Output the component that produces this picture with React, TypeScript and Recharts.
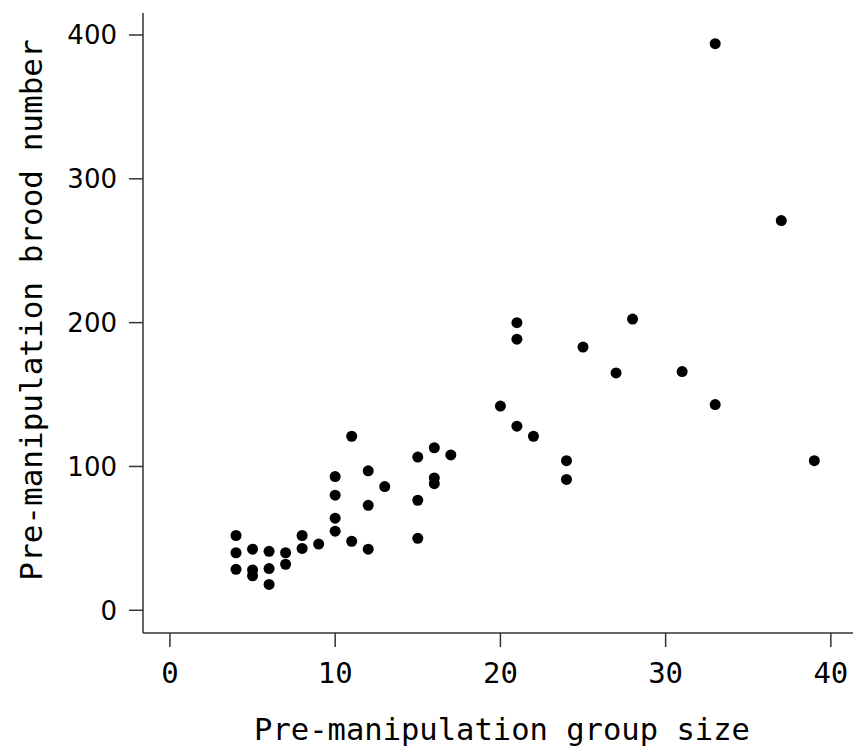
import React from "react";
import {ScatterChart, Scatter, XAxis, YAxis, Label} from "recharts";

// group size / brood number pairs
const groupSize = [
    4, 4, 4, 5, 5, 5, 6, 6, 6, 7, 7, 8, 8, 9,
    10, 10, 10, 10, 11, 11, 12, 12, 12, 13,
    15, 15, 15, 16, 16, 16, 17, 20, 21, 21, 21, 22,
    24, 24, 25, 27, 28, 31, 33, 33, 37, 39,
];
const broodNumber = [
    52, 40, 28.5, 42.5, 28, 24, 41, 29, 18, 40, 32, 52, 43, 46,
    93, 80, 64, 55, 121, 48, 97, 73, 42.5, 86,
    106.5, 76.5, 50, 113, 92, 88, 108, 142, 200, 188.5, 128, 121,
    104, 91, 183, 165, 202.5, 166, 143, 394, 271, 104,
];
const xTicks = [0, 10, 20, 30, 40];
const yTicks = [0, 100, 200, 300, 400];

const points = groupSize.map((g, i) => ({group: g, brood: broodNumber[i]}));

const axisColor = '#333';
const mono = '"DejaVu Sans Mono", monospace';

const Dot = (props: any) => {
    const {cx, cy} = props;
    return <circle cx={cx} cy={cy} r={5.5} fill="#000"/>;
};

const App = () => {
    return (
        <div style={{position: 'absolute', left: 0, top: 0, background: '#fff'}}>
            <ScatterChart width={853} height={747} margin={{top: 13, right: 0, bottom: 0, left: 0}}>
                <XAxis type="number" dataKey="group" domain={[-1.63, 41.34]} ticks={xTicks}
                       height={114} tickSize={14} tickMargin={15} allowDataOverflow
                       stroke={axisColor} strokeWidth={1.5}
                       tick={{fill: '#000', fontFamily: mono, fontSize: 29}}
                       tickLine={{stroke: axisColor, strokeWidth: 1.5}}>
                    <Label content={() => (
                        <text x={502} y={740} textAnchor="middle" fontFamily={mono} fontSize={30.5} fill="#000">
                            Pre-manipulation group size
                        </text>
                    )}/>
                </XAxis>
                <YAxis type="number" dataKey="brood" domain={[-15.8, 415.3]} ticks={yTicks}
                       width={143} tickSize={14} tickMargin={12} allowDataOverflow
                       stroke={axisColor} strokeWidth={1.5}
                       tick={{fill: '#000', fontFamily: '"DejaVu Sans", sans-serif', fontSize: 26}}
                       tickLine={{stroke: axisColor, strokeWidth: 1.5}}>
                    <Label content={() => (
                        <text x={0} y={0} transform="translate(42,310) rotate(-90)" textAnchor="middle"
                              fontFamily={mono} fontSize={31} fill="#000">
                            Pre-manipulation brood number
                        </text>
                    )}/>
                </YAxis>
                <Scatter data={points} shape={Dot} isAnimationActive={false}/>
            </ScatterChart>
        </div>
    );
};

export default App;
